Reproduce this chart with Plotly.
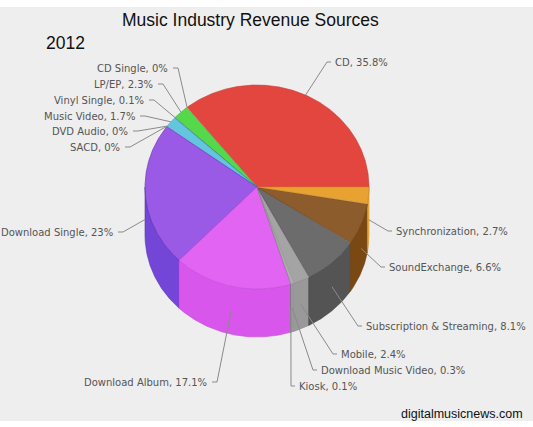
import numpy as np
import plotly.graph_objects as go

# values (percent of revenue)
categories = ["CD", "CD Single", "LP/EP", "Vinyl Single", "Music Video", "DVD Audio", "SACD",
              "Download Single", "Download Album", "Kiosk", "Download Music Video", "Mobile",
              "Subscription & Streaming", "SoundExchange", "Synchronization"]
values = [35.8, 0, 2.3, 0.1, 1.7, 0, 0, 23, 17.1, 0.1, 0.3, 2.4, 8.1, 6.6, 2.7]

title_text = "Music Industry Revenue Sources"
year_text = "2012"
source_text = "digitalmusicnews.com"

# styling
top_colors = ["#e2463e", "#d0c040", "#55d84a", "#3aa0c0", "#62c6e0", "#4040c0", "#2a2a9a",
              "#9a5ae6", "#e264f2", "#909090", "#b4b4b4", "#a4a4a4",
              "#6c6c6c", "#8c5c2c", "#e8a232"]
side_colors = ["#c03028", "#b0a030", "#40b038", "#2a8090", "#48a8c0", "#3030a0", "#202080",
               "#7446d8", "#d856ec", "#808080", "#a0a0a0", "#999999",
               "#545454", "#7a4812", "#eeb040"]
edge_colors = ["#c83a30", "#a09020", "#40b038", "#2a8090", "#48a8c0", "#2a2a9a", "#22228a",
               "#5a30b0", "#c84ade", "#707070", "#909090", "#8a8a8a",
               "#4a4a4a", "#6a4010", "#d08a20"]
# label anchor (text edge x, y, which side of the text the line comes in)
label_pos = [(333, 62, "l"), (170, 68, "r"), (155, 84, "r"), (146, 100, "r"), (137, 116, "r"),
             (130, 131, "r"), (122, 147, "r"), (115, 232, "r"), (209, 382, "r"),
             (297, 386, "l"), (319, 370, "l"), (339, 354, "l"), (364, 326, "l"),
             (387, 267, "l"), (394, 231, "l")]

W, H = 533, 427
CX, CY, RX, RY, DEPTH = 257, 187, 112, 102, 48


def ell(t_deg, drop=0.0):
    t = np.radians(t_deg)
    return CX + RX * np.cos(t), CY - RY * np.sin(t) + drop


total = sum(values)
bounds = np.concatenate([[0], np.cumsum(values)]) / total * 360

fig = go.Figure()

# front wall of the cylinder
for i, v in enumerate(values):
    lo, hi = max(bounds[i], 180), min(bounds[i + 1], 360)
    if hi <= lo:
        continue
    t = np.linspace(lo, hi, max(2, int((hi - lo) * 3)))
    xt, yt = ell(t)
    xb, yb = ell(t[::-1], DEPTH)
    fig.add_trace(go.Scatter(
        x=np.r_[xt, xb, xt[:1]], y=np.r_[yt, yb, yt[:1]],
        mode="lines", fill="toself", fillcolor=side_colors[i],
        line=dict(color=edge_colors[i], width=0.6),
        hoverinfo="skip", showlegend=False))

# top faces
for i, v in enumerate(values):
    a0, a1 = bounds[i], bounds[i + 1]
    if a1 <= a0:
        continue
    t = np.linspace(a0, a1, max(2, int((a1 - a0) * 3)))
    xs, ys = ell(t)
    fig.add_trace(go.Scatter(
        x=np.r_[CX, xs, CX], y=np.r_[CY, ys, CY],
        mode="lines", fill="toself", fillcolor=top_colors[i],
        line=dict(color=edge_colors[i], width=0.6),
        name=categories[i], text=f"{categories[i]}, {v:g}%",
        hoverinfo="text", showlegend=False))

# leader lines + labels
for i, v in enumerate(values):
    mid = (bounds[i] + bounds[i + 1]) / 2
    drop = DEPTH / 2 if np.sin(np.radians(mid)) < 0 else 0
    ax, ay = ell(mid, drop)
    tx, ty, side = label_pos[i]
    if side == "l":
        px = [ax, tx - 6, tx - 2]
    else:
        px = [ax, tx + 8, tx + 3]
    fig.add_trace(go.Scatter(
        x=px, y=[ay, ty, ty], mode="lines",
        line=dict(color="#8a8a8a", width=1),
        hoverinfo="skip", showlegend=False))
    fig.add_annotation(
        x=tx, y=ty, xref="x", yref="y", showarrow=False,
        text=f"{categories[i]}, {v:g}%",
        xanchor="left" if side == "l" else "right", yanchor="middle",
        font=dict(family="DejaVu Sans", size=10, color="#555555"))

fig.add_annotation(x=250, y=20, xref="x", yref="y", showarrow=False, text=title_text,
                   xanchor="center", yanchor="middle",
                   font=dict(family="Liberation Sans", size=17.5, color="#111111"))
fig.add_annotation(x=44, y=43, xref="x", yref="y", showarrow=False, text=year_text,
                   xanchor="left", yanchor="middle",
                   font=dict(family="Liberation Sans", size=17.5, color="#111111"))
fig.add_annotation(x=525, y=414, xref="x", yref="y", showarrow=False, text=source_text,
                   xanchor="right", yanchor="middle",
                   font=dict(family="Liberation Sans", size=12.5, color="#111111"))

fig.update_layout(
    width=W, height=H,
    margin=dict(l=0, r=0, t=0, b=0),
    paper_bgcolor="#eeeeee", plot_bgcolor="#eeeeee",
    shapes=[
        dict(type="rect", xref="x", yref="y", x0=0, x1=W, y0=0, y1=7,
             fillcolor="white", line_width=0, layer="below"),
        dict(type="rect", xref="x", yref="y", x0=0, x1=W, y0=421, y1=H,
             fillcolor="white", line_width=0, layer="below"),
    ],
)
fig.update_xaxes(visible=False, range=[0, W], fixedrange=True)
fig.update_yaxes(visible=False, range=[H, 0], fixedrange=True)

fig.write_html("out.html", config={"displayModeBar": False},
               post_script="document.body.style.margin='0';")
